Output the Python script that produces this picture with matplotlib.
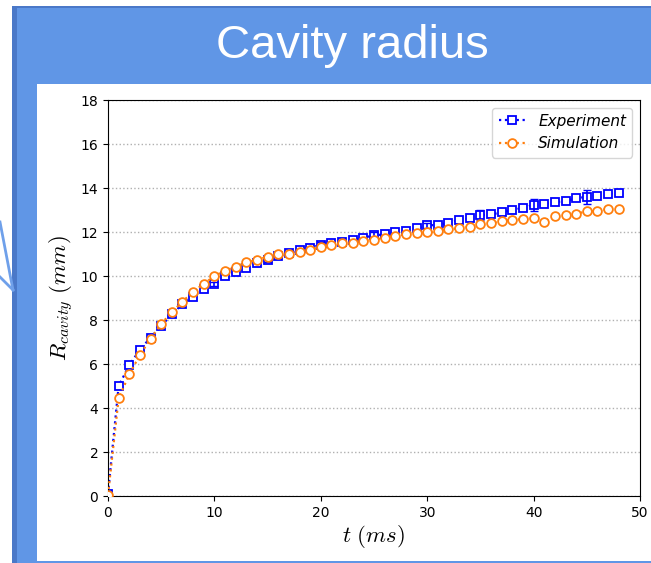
import numpy as np
import matplotlib
matplotlib.use("Agg")
import matplotlib.pyplot as plt
from matplotlib.patches import Rectangle
from matplotlib.lines import Line2D

plt.rcParams["mathtext.fontset"] = "cm"

# ================= data =================
t_exp = [0, 1, 2, 3, 4, 5, 6, 7, 8, 9, 10, 11, 12, 13, 14, 15, 16, 17, 18, 19, 20,
         21, 22, 23, 24, 25, 26, 27, 28, 29, 30, 31, 32, 33, 34, 35, 36, 37, 38, 39, 40,
         41, 42, 43, 44, 45, 46, 47, 48]
r_exp = [0.1, 5.0, 5.95, 6.65, 7.2, 7.73, 8.26, 8.72, 9.06, 9.41, 9.64, 10.0, 10.2, 10.38,
         10.6, 10.73, 10.89, 11.03, 11.18, 11.29, 11.41, 11.48, 11.56, 11.64, 11.74, 11.85,
         11.89, 11.98, 12.05, 12.17, 12.3, 12.32, 12.42, 12.55, 12.62, 12.77, 12.8, 12.89,
         13.0, 13.1, 13.23, 13.27, 13.35, 13.42, 13.53, 13.6, 13.65, 13.73, 13.79]

t_sim = t_exp
r_sim = [0.05, 4.44, 5.53, 6.41, 7.15, 7.82, 8.36, 8.83, 9.29, 9.64, 10.0, 10.24, 10.42,
         10.62, 10.73, 10.88, 10.98, 10.98, 11.08, 11.18, 11.33, 11.41, 11.48, 11.52, 11.61,
         11.64, 11.74, 11.82, 11.89, 11.94, 11.98, 12.05, 12.12, 12.17, 12.24, 12.36, 12.39,
         12.5, 12.55, 12.59, 12.62, 12.47, 12.74, 12.77, 12.82, 12.95, 12.95, 13.05, 13.05]

# experiment error bars (every 5 ms)
t_err = [5, 10, 15, 20, 25, 30, 35, 40, 45]
r_err = [7.73, 9.64, 10.73, 11.41, 11.85, 12.3, 12.77, 13.23, 13.6]
err = [0.08, 0.08, 0.1, 0.12, 0.15, 0.12, 0.23, 0.28, 0.32]

title = "Cavity radius"

W, H = 651, 563
fig = plt.figure(figsize=(W / 100, H / 100), dpi=100)
fig.patch.set_facecolor("white")

def px_rect(x0, y0, x1, y1, color, z):
    # rectangle given in pixel coords (origin top-left)
    fig.add_artist(Rectangle((x0 / W, 1 - y1 / H), (x1 - x0) / W, (y1 - y0) / H,
                             transform=fig.transFigure, facecolor=color,
                             edgecolor="none", zorder=z))

# slide background
px_rect(12, 6, W, H, "#4a78c8", 0)
px_rect(17, 8, W, H, "#6096e6", 0.1)
px_rect(37, 84, W, 561, "white", 0.2)

# light blue lines on the left (connector arrow)
fig.add_artist(Line2D([0 / W, 13 / W], [1 - 222 / H, 1 - 290 / H], transform=fig.transFigure,
                      color="#6fa0ea", lw=2, zorder=0.3))
fig.add_artist(Line2D([0 / W, 13 / W], [1 - 277 / H, 1 - 290 / H], transform=fig.transFigure,
                      color="#6fa0ea", lw=2, zorder=0.3))

fig.text(352 / W, 1 - 46 / H, title, color="white", fontsize=34,
         family="Liberation Sans", ha="center", va="center")

ax = fig.add_axes([108 / W, 1 - 496 / H, (640 - 108) / W, (496 - 100) / H])
ax.set_zorder(1)
ax.patch.set_alpha(0)

ax.plot(t_exp, r_exp, ls=":", color="blue", lw=1.6, marker="s", ms=5.8,
        mfc="white", mec="blue", mew=1.3, label="Experiment", zorder=2)
ax.errorbar(t_err, r_err, yerr=err, fmt="none", ecolor="blue", elinewidth=1.2,
            capsize=3, zorder=2.5)
ax.plot(t_sim, r_sim, ls=":", color="#ff7f0e", lw=1.6, marker="o", ms=6.3,
        mfc="white", mec="#ff7f0e", mew=1.3, label="Simulation", zorder=3)

ax.set_xlim(0, 50)
ax.set_ylim(0, 18)
ax.set_xticks(np.arange(0, 51, 10))
ax.set_yticks(np.arange(0, 19, 2))
ax.tick_params(labelsize=10)
ax.grid(axis="y", ls=":", color="#b0b0b0", lw=1)
ax.set_axisbelow(True)

ax.set_xlabel(r"$t\ (ms)$", fontsize=16.5, labelpad=2)
ax.set_ylabel(r"$R_{cavity}\ (mm)$", fontsize=16.5, labelpad=3)

leg = ax.legend(loc="upper right", prop={"style": "italic", "size": 11},
                handlelength=1.8, borderaxespad=0.5)

fig.savefig("out.png", dpi=100)
